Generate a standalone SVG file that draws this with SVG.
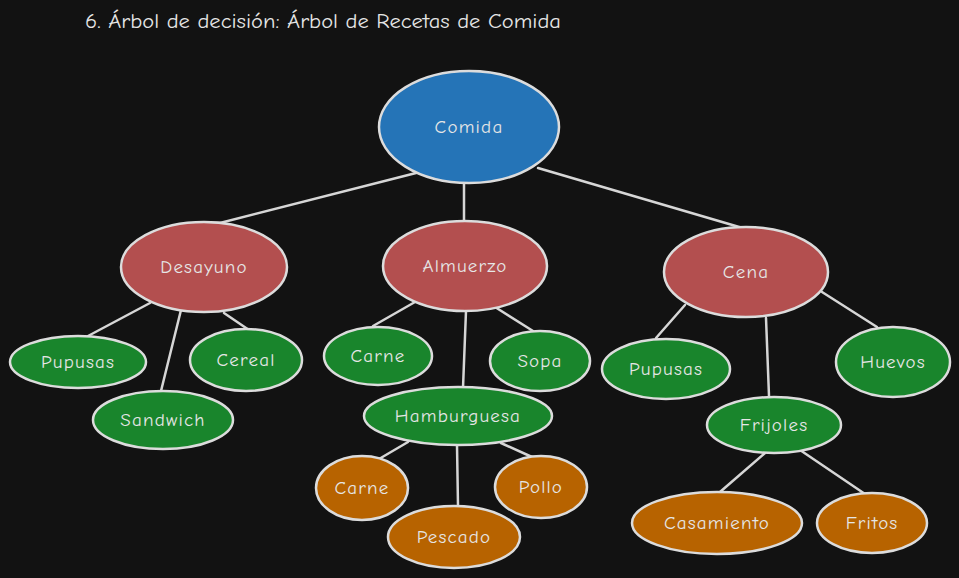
<svg xmlns="http://www.w3.org/2000/svg" width="959" height="578" viewBox="0 0 959 578">
<style>
.n ellipse{stroke:#dcdcdc;stroke-width:2.5}
.blue{fill:#2574b7}
.red{fill:#b34f4f}
.green{fill:#19852c}
.orange{fill:#b76300}
text{font-family:"Comic Neue","Open Sans","Liberation Sans",sans-serif;fill:#e6e6e6;text-anchor:middle;dominant-baseline:central;font-size:19px;letter-spacing:1.2px}
.title{text-anchor:start;dominant-baseline:auto;font-size:20px;letter-spacing:0}
#edges line{stroke:#d6d6d6;stroke-width:2.5;stroke-linecap:round}
</style>
<rect width="959" height="578" fill="#121212"/>
<text class="title" x="85" y="28" textLength="476" lengthAdjust="spacingAndGlyphs">6. Árbol de decisión: Árbol de Recetas de Comida</text>
<g id="edges">
<line x1="416" y1="173" x2="216" y2="224"/>
<line x1="464" y1="184" x2="464" y2="222"/>
<line x1="538" y1="168" x2="746" y2="229"/>
<line x1="150" y1="303" x2="88" y2="336"/>
<line x1="181" y1="310" x2="161" y2="391"/>
<line x1="224" y1="313" x2="249" y2="330"/>
<line x1="415" y1="302" x2="373" y2="326"/>
<line x1="466" y1="311" x2="463" y2="388"/>
<line x1="495" y1="307" x2="533" y2="331"/>
<line x1="408" y1="442" x2="379" y2="459"/>
<line x1="457" y1="445" x2="458" y2="506"/>
<line x1="501" y1="443" x2="532" y2="457"/>
<line x1="685" y1="305" x2="656" y2="338"/>
<line x1="766" y1="318" x2="769" y2="396"/>
<line x1="822" y1="292" x2="877" y2="327"/>
<line x1="765" y1="453" x2="720" y2="492"/>
<line x1="800" y1="450" x2="865" y2="494"/>
</g>
<g id="comida" class="n"><ellipse class="blue" cx="469" cy="127" rx="90" ry="56"/><text x="469" y="127">Comida</text></g>
<g id="desayuno" class="n"><ellipse class="red" cx="204" cy="267" rx="83" ry="45"/><text x="204" y="267">Desayuno</text></g>
<g id="almuerzo" class="n"><ellipse class="red" cx="465" cy="266" rx="82" ry="45"/><text x="465" y="266">Almuerzo</text></g>
<g id="cena" class="n"><ellipse class="red" cx="746" cy="272" rx="82" ry="45"/><text x="746" y="272">Cena</text></g>
<g id="pupusas1" class="n"><ellipse class="green" cx="78" cy="362" rx="68" ry="26"/><text x="78" y="362">Pupusas</text></g>
<g id="cereal" class="n"><ellipse class="green" cx="246" cy="360" rx="56" ry="31"/><text x="246" y="360">Cereal</text></g>
<g id="sandwich" class="n"><ellipse class="green" cx="163" cy="420" rx="70" ry="29"/><text x="163" y="420">Sandwich</text></g>
<g id="carne1" class="n"><ellipse class="green" cx="378" cy="356" rx="54" ry="29"/><text x="378" y="356">Carne</text></g>
<g id="sopa" class="n"><ellipse class="green" cx="540" cy="361" rx="50" ry="30"/><text x="540" y="361">Sopa</text></g>
<g id="hamburguesa" class="n"><ellipse class="green" cx="458" cy="416" rx="94" ry="29"/><text x="458" y="416">Hamburguesa</text></g>
<g id="carne2" class="n"><ellipse class="orange" cx="362" cy="488" rx="46" ry="32"/><text x="362" y="488">Carne</text></g>
<g id="pescado" class="n"><ellipse class="orange" cx="454" cy="537" rx="66" ry="31"/><text x="454" y="537">Pescado</text></g>
<g id="pollo" class="n"><ellipse class="orange" cx="541" cy="487" rx="46" ry="31"/><text x="541" y="487">Pollo</text></g>
<g id="pupusas2" class="n"><ellipse class="green" cx="666" cy="369" rx="64" ry="30"/><text x="666" y="369">Pupusas</text></g>
<g id="huevos" class="n"><ellipse class="green" cx="893" cy="362" rx="57" ry="35"/><text x="893" y="362">Huevos</text></g>
<g id="frijoles" class="n"><ellipse class="green" cx="774" cy="425" rx="67" ry="28"/><text x="774" y="425">Frijoles</text></g>
<g id="casamiento" class="n"><ellipse class="orange" cx="717" cy="523" rx="85" ry="31"/><text x="717" y="523">Casamiento</text></g>
<g id="fritos" class="n"><ellipse class="orange" cx="872" cy="523" rx="55" ry="30"/><text x="872" y="523">Fritos</text></g>
</svg>
